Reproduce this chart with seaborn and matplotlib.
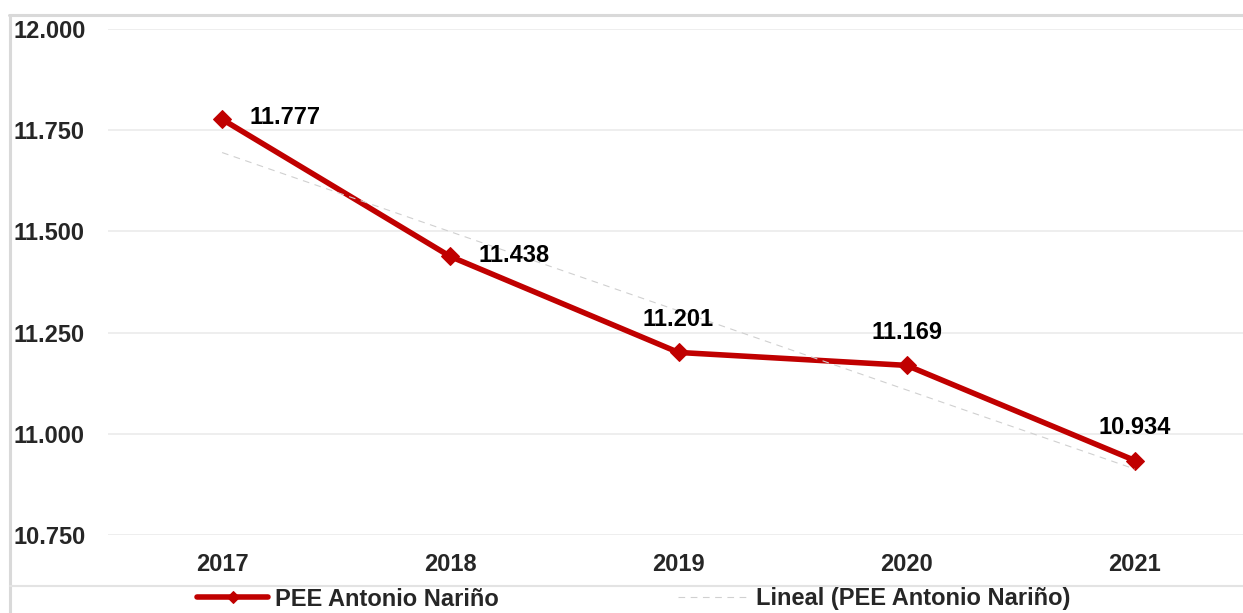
import numpy as np
import pandas as pd
import matplotlib
matplotlib.use("Agg")
import matplotlib.pyplot as plt
from matplotlib.lines import Line2D
import seaborn as sns

# Chart data
years = ["2017", "2018", "2019", "2020", "2021"]
pee_values = [11777, 11438, 11201, 11169, 10934]
label_side = ["right", "right", "above", "above", "above"]
y_ticks = [10750, 11000, 11250, 11500, 11750, 12000]

series_name = "PEE Antonio Nariño"
trend_name = "Lineal (PEE Antonio Nariño)"

red = "#C00000"
fs = 17


def fmt(v):
    # Spanish style thousands separator
    return f"{v:,.0f}".replace(",", ".")


sns.set_style("white")
plt.rcParams["font.family"] = ["Liberation Sans", "DejaVu Sans"]
plt.rcParams["font.weight"] = "bold"

df = pd.DataFrame({"pos": np.arange(len(years)), "year": years, "value": pee_values})

fig = plt.figure(figsize=(12.43, 6.13), dpi=100)
ax = fig.add_axes([108 / 1243, 1 - 535 / 613, 1141 / 1243, 506 / 613])

# grid lines
for t in y_ticks:
    ax.axhline(t, color="#EDEDED", lw=1.3, zorder=0)

sns.lineplot(data=df, x="pos", y="value", ax=ax, color=red, lw=4,
             marker="D", markersize=9, markeredgecolor=red,
             label=series_name, zorder=3)

# linear trend (Excel style trendline)
sns.regplot(data=df, x="pos", y="value", ax=ax, scatter=False, ci=None,
            truncate=True, label=trend_name,
            line_kws=dict(color="#D0D0D0", lw=0.8, linestyle=(0, (6, 5)), zorder=4))

# data labels
for x, v, side in zip(df["pos"], pee_values, label_side):
    if side == "right":
        ax.annotate(fmt(v), (x, v), xytext=(20, 1), textcoords="offset points",
                    ha="left", va="center", fontsize=fs, fontweight="bold",
                    color="black", zorder=5)
    else:
        ax.annotate(fmt(v), (x, v), xytext=(0, 24), textcoords="offset points",
                    ha="center", va="center", fontsize=fs, fontweight="bold",
                    color="black", zorder=5)

ax.set_xlim(-0.5, len(years) - 0.5)
ax.set_ylim(y_ticks[0], y_ticks[-1])
ax.set_xticks(df["pos"], labels=years)
ax.set_yticks(y_ticks, labels=[fmt(t) for t in y_ticks])
ax.tick_params(axis="x", length=0, pad=13, labelsize=fs)
ax.tick_params(axis="y", length=0, pad=67.7, labelsize=fs)
for lab in ax.get_yticklabels():
    lab.set_horizontalalignment("left")
for lab in ax.get_xticklabels() + ax.get_yticklabels():
    lab.set_fontweight("bold")
ax.set_xlabel("")
ax.set_ylabel("")
sns.despine(ax=ax, left=True, bottom=True)
ax.set_facecolor("none")

# legend at the bottom
handles, labels = ax.get_legend_handles_labels()
ax.get_legend().remove()
leg = fig.legend(handles, labels, loc="center", bbox_to_anchor=(634 / 1243, 1 - 599 / 613),
                 ncol=2, frameon=False, fontsize=fs, handlelength=3.0,
                 handletextpad=0.3, columnspacing=7.6, borderpad=0)
leg.legend_handles[0].set_markersize(6.5)

# chart frame and separator
border = "#D9D9D9"
fig.add_artist(Line2D([9.5 / 1243, 9.5 / 1243], [0, 1 - 14.5 / 613], color=border, lw=2.2))
fig.add_artist(Line2D([8.5 / 1243, 1], [1 - 14.5 / 613, 1 - 14.5 / 613], color=border, lw=2.2))
fig.add_artist(Line2D([10 / 1243, 1], [1 - 585.5 / 613, 1 - 585.5 / 613], color="#E3E3E3", lw=1.5))

fig.savefig("out.png", dpi=100)
